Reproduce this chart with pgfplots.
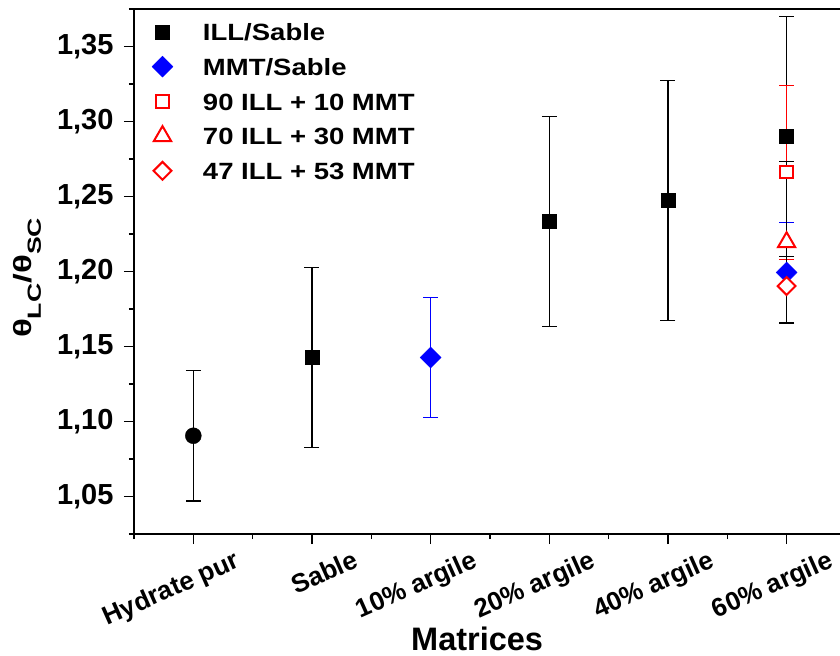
\documentclass[border=0pt]{standalone}
\usepackage{fontspec}
\setmainfont{Liberation Sans}
\newfontfamily\legfont[FakeStretch=1.17]{Liberation Sans}
\newfontfamily\labfont[FakeStretch=1.4]{Liberation Sans}
\usepackage{pgfplots}
\pgfplotsset{compat=1.18}
\definecolor{oblue}{RGB}{0,0,255}
\definecolor{ored}{RGB}{255,0,0}
\begin{document}
\begin{tikzpicture}
\useasboundingbox (-134bp,-122bp) rectangle (706bp,534bp);
\begin{axis}[
  at={(0,0)}, anchor=south west,
  scale only axis,
  width=706bp, height=525bp,
  xmin=-0.5, xmax=5.45,
  ymin=1.025, ymax=1.375,
  axis x line*=box,
  axis y line*=left,
  axis line style={-, line width=1.4bp, black},
  xtick={0,1,2,3,4,5},
  xticklabels={Hydrate pur, Sable, 10\% argile, 20\% argile, 40\% argile, 60\% argile},
  minor xtick={-0.5,0.5,1.5,2.5,3.5,4.5},
  ytick={1.05,1.10,1.15,1.20,1.25,1.30,1.35},
  yticklabels={{1,05},{1,10},{1,15},{1,20},{1,25},{1,30},{1,35}},
  minor ytick={1.025,1.075,1.125,1.175,1.225,1.275,1.325,1.375},
  xtick pos=bottom, ytick pos=left,
  tick align=outside,
  major tick length=10bp, minor tick length=5bp,
  every tick/.style={black, line width=1.4bp},
  yticklabel style={font=\fontsize{29bp}{34bp}\selectfont\bfseries,
    anchor=east, xshift=-7bp},
  xticklabel style={font=\fontsize{26bp}{30bp}\selectfont\bfseries,
    xshift=51bp, yshift=-21bp, rotate=24, anchor=base east},
  xlabel={Matrices},
  xlabel style={font=\fontsize{32.5bp}{38bp}\selectfont\bfseries,
    at={(rel axis cs:0.486,-0.2225)}, anchor=base},
  ylabel={θ\raisebox{-9bp}{\fontsize{19bp}{19bp}\selectfont LC}/θ\raisebox{-9bp}{\fontsize{19bp}{19bp}\selectfont SC}},
  ylabel style={font=\labfont\fontsize{25bp}{30bp}\selectfont\bfseries,
    at={(rel axis cs:-0.1445,0.4876)}, anchor=base, rotate=0},
  legend image code/.code={
    \path[draw=none, fill=none] (-15bp,-6bp) rectangle (40.5bp,19bp);
    \draw[#1] plot coordinates {(0bp,2.3bp)};},
  legend cell align=left,
  legend style={draw=none, fill=none, inner sep=0bp, outer sep=0bp,
    at={(rel axis cs:0,1)}, anchor=north west, xshift=13.5bp, yshift=-6.3bp,
    font=\legfont\fontsize{23.5bp}{28bp}\selectfont\bfseries,
    row sep=3.2bp,
    nodes={inner xsep=0bp, inner ysep=0bp, text height=19bp, text depth=6bp}},
]
% Hydrate pur (not in legend)
\addplot[forget plot, only marks, mark=*, mark size=8bp, black,
  mark options={fill=black, draw=black},
  error bars/.cd, y dir=both, y explicit,
  error bar style={line width=1.3bp, black},
  error mark options={rotate=90, mark size=7.5bp, line width=1.3bp, black}]
  coordinates {(0,1.0905) +- (0,0.0435)};
% ILL/Sable
\addplot[only marks, mark=square*, mark size=7bp, black,
  mark options={fill=black, draw=black},
  error bars/.cd, y dir=both, y explicit,
  error bar style={line width=1.3bp, black},
  error mark options={rotate=90, mark size=7.5bp, line width=1.3bp, black}]
  coordinates {
    (1,1.1428) +- (0,0.0600)
    (3,1.2333) +- (0,0.0698)
    (4,1.2473) +- (0,0.0798)
    (5,1.2900) +- (0,0.0800)
  };
% MMT/Sable
\addplot[only marks, mark=square*, mark size=7.4bp, oblue,
  mark options={rotate=45, fill=oblue, draw=oblue},
  error bars/.cd, y dir=both, y explicit,
  error bar style={line width=1.3bp, oblue},
  error mark options={rotate=90, mark size=7.5bp, line width=1.3bp, oblue}]
  coordinates {
    (2,1.1427) +- (0,0.0398)
    (5,1.1994) +- (0,0.0334)
  };
% 90 ILL + 10 MMT
\addplot[only marks, mark=square*, mark size=6.2bp, ored,
  mark options={fill=white, draw=ored, line width=2bp},
  error bars/.cd, y dir=both, y explicit,
  error bar style={line width=1.3bp, ored},
  error mark options={rotate=90, mark size=7.5bp, line width=1.3bp, ored}]
  coordinates {
    (5,1.2662) +- (0,0.0580)
  };
% 70 ILL + 30 MMT
\addplot[only marks, mark=triangle*, mark size=10bp, ored,
  mark options={fill=white, draw=ored, line width=2bp},
  error bars/.cd, y dir=both, y explicit,
  error bar style={line width=1.3bp, black},
  error mark options={rotate=90, mark size=7.5bp, line width=1.3bp, black}]
  coordinates {
    (5,1.2195) +- (0,0.0538)
  };
% 47 ILL + 53 MMT
\addplot[only marks, mark=square*, mark size=6.3bp, ored,
  mark options={rotate=45, fill=white, draw=ored, line width=2bp}]
  coordinates {
    (5,1.1903)
  };
\legend{ILL/Sable, MMT/Sable, 90 ILL + 10 MMT, 70 ILL + 30 MMT, 47 ILL + 53 MMT}
\end{axis}
\end{tikzpicture}
\end{document}
